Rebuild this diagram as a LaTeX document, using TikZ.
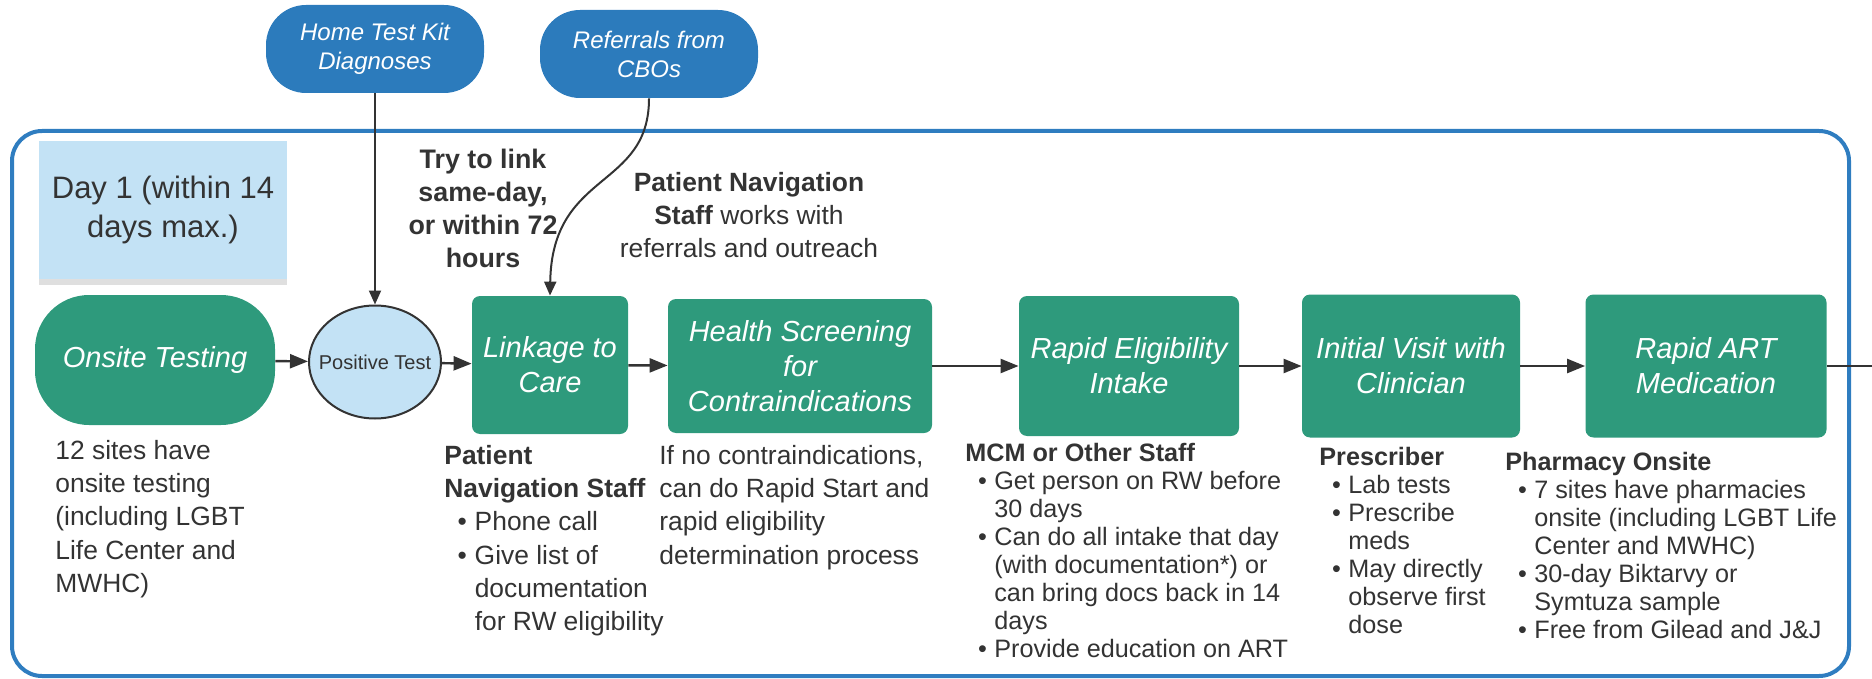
\documentclass[tikz,border=0pt]{standalone}
\usepackage{fontspec}
\setmainfont{Liberation Sans}
\usetikzlibrary{arrows.meta,shapes.geometric,shadows}
\definecolor{stagegreen}{HTML}{2E9A7C}
\definecolor{sourceblue}{HTML}{2C7BBC}
\definecolor{frameblue}{HTML}{2F7DC0}
\definecolor{paleblue}{HTML}{C3E2F5}
\definecolor{inkgray}{HTML}{333333}
\tikzstyle{stage} = [
 rectangle,
 fill=stagegreen,
 rounded corners=4pt,
 text=white,
 font=\fontsize{14.5pt}{17.5pt}\selectfont\itshape,
 align = center,
 inner sep=0pt
]
\tikzstyle{source} = [
 rectangle,
 fill=sourceblue,
 rounded corners=20pt,
 text=white,
 font=\fontsize{12pt}{14.5pt}\selectfont\itshape,
 align = center,
 minimum width=109pt,
 minimum height=44pt
]
\tikzstyle{note} = [
 text=inkgray,
 font=\fontsize{13.2pt}{16.6pt}\selectfont,
 align = left,
 anchor = north west,
 inner sep=0pt
]
\tikzstyle{list} = [
 note,
 font=\fontsize{12.6pt}{14pt}\selectfont
]
\tikzstyle{flow} = [
 draw=inkgray,
 line width=1.2pt,
 -{Triangle[length=9pt,width=7pt]}
]
\tikzstyle{feed} = [
 draw=inkgray,
 line width=1pt,
 -{Triangle[length=7pt,width=6pt]}
]
% bullet and continuation indent for the staff lists
\newcommand{\bul}{\hspace*{0.5em}\makebox[0.65em][l]{\textbullet}}
\newcommand{\cnt}{\hspace*{1.15em}}

\begin{document}
\begin{tikzpicture}[x=0.5pt, y=-0.5pt]
  \useasboundingbox (0,0) rectangle (1872,679);
  % outer frame
  \draw[frameblue, line width=2pt, rounded corners=15pt] (12,131) rectangle (1849,676);

  % where patients come from
  \node[source] (home) at (375,49) {Home Test Kit\\Diagnoses};
  \node[source] (cbo) at (649,54) {Referrals from\\CBOs};

  \node[fill=paleblue, minimum width=124pt, minimum height=68.5pt,
    drop shadow={shadow xshift=0pt, shadow yshift=-3pt, opacity=0.25},
    text=inkgray, font=\fontsize{15.5pt}{19.5pt}\selectfont, align=center]
    (day) at (163,210) {Day 1 (within 14\\days max.)};

  % main flow
  \node[stage, rounded corners=27pt, minimum width=120pt, minimum height=65pt]
    (onsite) at (155,360) {Onsite Testing};
  \node[ellipse, draw=inkgray, line width=1pt, fill=paleblue, minimum width=66pt,
    minimum height=56.5pt, inner sep=0pt, text=inkgray,
    font=\fontsize{10pt}{12pt}\selectfont]
    (positive) at (375,362) {\makebox[0pt]{Positive Test}};
  \node[stage, minimum width=78pt, minimum height=69pt]
    (linkage) at (550,365) {Linkage to\\Care};
  \node[stage, minimum width=132pt, minimum height=67pt]
    (screening) at (800,366) {Health Screening\\for\\Contraindications};
  \node[stage, minimum width=110pt, minimum height=70pt]
    (intake) at (1129,366) {Rapid Eligibility\\Intake};
  \node[stage, minimum width=109pt, minimum height=71.5pt]
    (visit) at (1411,366) {Initial Visit with\\Clinician};
  \node[stage, minimum width=120.5pt, minimum height=71.5pt]
    (art) at (1706,366) {Rapid ART\\Medication};
  \coordinate (exit) at (1872,366);

  \draw[flow] (onsite) -- (positive);
  \draw[flow] (positive) -- (linkage);
  \draw[flow] (linkage) -- (screening);
  \draw[flow] (screening) -- (intake);
  \draw[flow] (intake) -- (visit);
  \draw[flow] (visit) -- (art);
  \draw[draw=inkgray, line width=1pt] (art) -- (exit);

  \draw[feed] (home) -- (positive);
  \draw[feed] (cbo.south) .. controls (649,190) and (552,170) .. (linkage.north);

  % notes above the flow
  \node[note, anchor=north, align=center, font=\fontsize{13.4pt}{16.5pt}\selectfont\bfseries]
    (linktime) at (483,149) {Try to link\\same-day,\\or within 72\\hours};
  \node[note, anchor=north, align=center]
    (navstaff) at (749,172) {\textbf{Patient Navigation}\\\textbf{Staff} works with\\referrals and outreach};

  % notes under each step
  \node[note] (onsitenote) at (55,440)
    {12 sites have\\onsite testing\\(including LGBT\\Life Center and\\MWHC)};
  \node[note] (linkagenote) at (444,445)
    {\textbf{Patient}\\\textbf{Navigation Staff}\\\bul Phone call\\\bul Give list of\\\cnt documentation\\\cnt for RW eligibility};
  \node[note] (screeningnote) at (659,445)
    {If no contraindications,\\can do Rapid Start and\\rapid eligibility\\determination process};
  \node[list] (intakenote) at (965,443)
    {\textbf{MCM or Other Staff}\\\bul Get person on RW before\\\cnt 30 days\\\bul Can do all intake that day\\\cnt (with documentation*) or\\\cnt can bring docs back in 14\\\cnt days\\\bul Provide education on ART};
  \node[list] (visitnote) at (1319,447)
    {\textbf{Prescriber}\\\bul Lab tests\\\bul Prescribe\\\cnt meds\\\bul May directly\\\cnt observe first\\\cnt dose};
  \node[list] (artnote) at (1505,452)
    {\textbf{Pharmacy Onsite}\\\bul 7 sites have pharmacies\\\cnt onsite (including LGBT Life\\\cnt Center and MWHC)\\\bul 30-day Biktarvy or\\\cnt Symtuza sample\\\bul Free from Gilead and J\&J};
\end{tikzpicture}
\end{document}
